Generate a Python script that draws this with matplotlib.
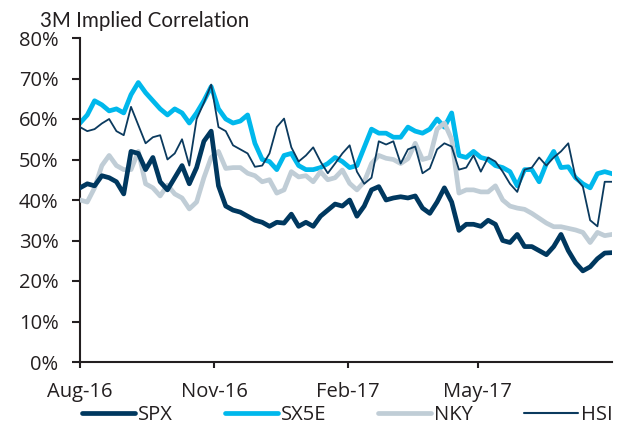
import matplotlib
matplotlib.use("Agg")
import matplotlib.pyplot as plt
import pandas as pd

plt.rcParams['font.family'] = ['Open Sans', 'DejaVu Sans']

# observation dates (every 5 days from Aug-2016)
start_date = "2016-08-01"
n_obs = 74
step = "5D"

spx = [43, 44, 43.5, 46, 45.5, 44.5, 41.5, 52, 51.5, 47.5,
       50.5, 44.5, 42.5, 45.5, 48.5, 44, 48, 54.5, 57, 43.5,
       38.5, 37.5, 37, 36, 35, 34.5, 33.5, 34.5, 34.3, 36.5,
       33.5, 34.5, 33.5, 36, 37.5, 39, 38.5, 40, 36, 38.5,
       42.5, 43.3, 40, 40.5, 40.8, 40.5, 41, 38, 36.7, 39.5,
       43, 39.5, 32.5, 34, 34, 33.5, 35, 34, 30, 29.5,
       31.5, 28.5, 28.5, 27.5, 26.5, 28.5, 31.5, 27.5, 24.5, 22.5,
       23.5, 25.5, 26.9, 27]

sx5e = [59, 61, 64.5, 63.5, 62, 62.5, 61.5, 66, 69, 66.5,
        64.5, 62.5, 61, 62.5, 61.5, 59, 61.5, 64.5, 68, 62.5,
        60, 59, 59.5, 61, 54, 50, 49.5, 47.5, 51, 51.5,
        48.5, 47.5, 47.5, 48, 49, 50.5, 49.5, 48, 48.5, 53,
        57.5, 56.5, 56.5, 55.5, 55.5, 58, 57, 56.5, 57.5, 60,
        58, 61.5, 51, 50.5, 52, 50.5, 50, 48.5, 48, 47,
        43.5, 47.5, 47.5, 44.5, 49, 52, 48, 48.2, 45.5, 44,
        43, 46.5, 47, 46.5]

nky = [40, 39.5, 43, 48.5, 51, 48.5, 47.5, 47.5, 52, 44,
       43, 41, 43.7, 41.5, 40.5, 37.8, 39.5, 45.5, 50.5, 52,
       47.8, 48, 48, 46.6, 46, 44.5, 45, 41.7, 42.5, 47,
       45.7, 46, 44.5, 47, 45, 45.5, 47.4, 44.1, 42.5, 44.5,
       49, 51, 50.3, 50, 49, 50.2, 54, 50, 50.5, 57.5,
       59, 55, 41.7, 42.5, 42.5, 42, 42, 43.5, 40, 38.5,
       38, 37.7, 36.7, 35.5, 34.3, 33.4, 33.4, 33, 32.6, 32,
       29.5, 32, 31.2, 31.5]

hsi = [58, 57, 57.5, 58.9, 60, 57, 56, 63, 58.5, 54,
       55.5, 56, 50, 51.5, 55, 48.5, 60, 64, 68.5, 58,
       57, 53.5, 52.5, 51.5, 48.2, 48.5, 51.5, 58, 60.1, 53,
       49.5, 51, 53, 49.5, 46.6, 49, 51.5, 53.5, 47, 44,
       45.5, 54.5, 53.7, 54.5, 49, 52.5, 53.2, 46.6, 47.8, 52.5,
       54, 53.2, 47.5, 48, 51, 47, 50.5, 49.5, 47, 44,
       42, 47.5, 48, 50.5, 48.5, 50.5, 52, 54, 45.5, 43.3,
       35, 33.5, 44.5, 44.5]

series_names = ["SPX", "SX5E", "NKY", "HSI"]
tick_dates = ["2016-08-01", "2016-11-01", "2017-02-01", "2017-05-01"]
tick_labels = ["Aug-16", "Nov-16", "Feb-17", "May-17"]
y_ticks = [0, 10, 20, 30, 40, 50, 60, 70, 80]

dates = pd.date_range(start_date, periods=n_obs, freq=step)

colors = {"SPX": "#00385F", "SX5E": "#00B8EC", "NKY": "#C0CDD6", "HSI": "#0B3A5E"}
widths = {"SPX": 3.4, "SX5E": 3.4, "NKY": 3.4, "HSI": 1.3}
values = {"SPX": spx, "SX5E": sx5e, "NKY": nky, "HSI": hsi}

fig = plt.figure(figsize=(6.18, 4.28), dpi=100)
ax = fig.add_axes([80/618, 1-362/428, (612-80)/618, (362-38)/428])

zorders = {"SX5E": 2, "NKY": 3, "SPX": 4, "HSI": 5}
lines = []
for name in series_names:
    l, = ax.plot(dates, values[name], color=colors[name], lw=widths[name],
                 solid_joinstyle='round', zorder=zorders[name], label=name)
    lines.append(l)

txt = "#231F20"
ax.set_ylim(0, 80)
ax.set_yticks(y_ticks)
ax.set_yticklabels([f"{v}%" for v in y_ticks])
ax.set_xlim(pd.Timestamp("2016-08-01"), pd.Timestamp("2017-08-01"))
ax.set_xticks([pd.Timestamp(d) for d in tick_dates])
ax.set_xticklabels(tick_labels)

for s in ["top", "right"]:
    ax.spines[s].set_visible(False)
for s in ["left", "bottom"]:
    ax.spines[s].set_color(txt)
    ax.spines[s].set_linewidth(1.5)

ax.tick_params(axis='y', length=6, width=1.5, color=txt, labelsize=14.5,
               labelcolor=txt, pad=9.5)
ax.tick_params(axis='x', length=4.5, width=1.5, color=txt, labelsize=14.5,
               labelcolor=txt, pad=10)

fig.text(40/618, 1-27/428, "3M Implied Correlation", fontsize=14.8,
         color=txt, va='baseline', ha='left', family=['Lato', 'DejaVu Sans'])

leg = fig.legend(handles=lines, labels=series_names, ncol=4,
                 loc='center left', bbox_to_anchor=(82/618, 1-415/428),
                 frameon=False, fontsize=14.5, handlelength=2.65,
                 handletextpad=0.15, columnspacing=2.55, borderpad=0,
                 borderaxespad=0)
for t in leg.get_texts():
    t.set_color(txt)
for h in leg.legend_handles:
    h.set_solid_capstyle('round')
leg.legend_handles[0].set_linewidth(3.4)
leg.legend_handles[3].set_linewidth(1.5)

fig.savefig("out.png", dpi=100)
